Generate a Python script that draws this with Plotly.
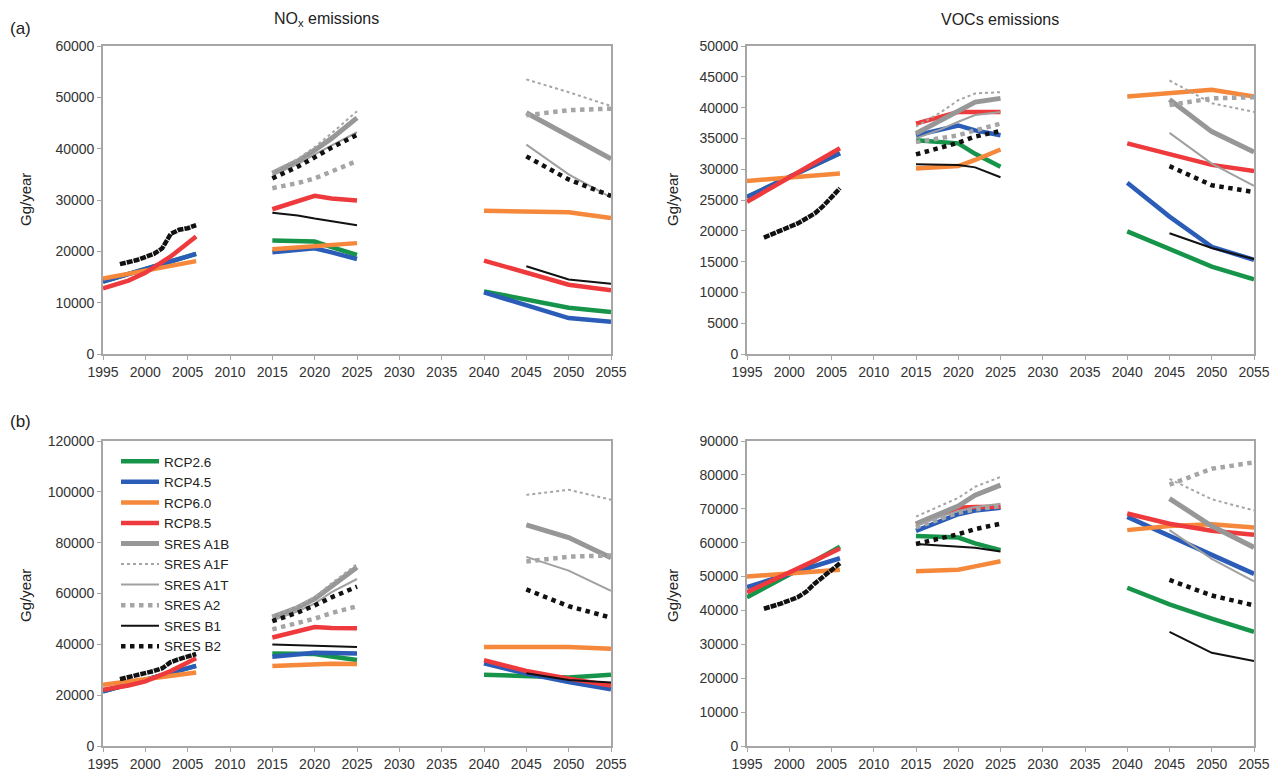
import plotly.graph_objects as go

SERIES = ["RCP2.6", "RCP4.5", "RCP6.0", "RCP8.5", "SRES A1B", "SRES A1F",
          "SRES A1T", "SRES A2", "SRES B1", "SRES B2"]
YEARS_P1 = [1995, 1998, 2000, 2003, 2006]
YEARS_P1_B2 = [1997, 1999, 2001, 2002, 2003, 2004, 2005, 2006]
YEARS_P2 = [2015, 2018, 2020, 2022, 2025]
YEARS_P3_RCP = [2040, 2045, 2050, 2055]
YEARS_P3_SRES = [2045, 2050, 2055]
X_TICKS = list(range(1995, 2056, 5))

# ---------- (a) NOx ----------
NOX_A_P1 = {
    "RCP2.6": [14100, 15600, 16600, 18000, 19500],
    "RCP4.5": [14100, 15600, 16600, 18000, 19500],
    "RCP6.0": [14700, 15600, 16300, 17200, 18100],
    "RCP8.5": [12800, 14300, 15800, 19000, 22900],
}
NOX_A_B2_P1 = [17500, 18300, 19500, 20600, 23400, 24200, 24500, 25100]
NOX_A_P2 = {
    "RCP2.6": [22100, 22000, 21900, 20800, 19300],
    "RCP4.5": [19800, 20300, 20600, 19800, 18500],
    "RCP6.0": [20400, 20800, 21100, 21400, 21600],
    "RCP8.5": [28200, 29700, 30800, 30300, 29900],
    "SRES A1B": [35200, 37600, 39700, 42000, 46000],
    "SRES A1F": [35500, 38000, 40300, 43000, 47300],
    "SRES A1T": [34800, 37000, 38900, 40600, 43200],
    "SRES A2": [32300, 33300, 34200, 35500, 37600],
    "SRES B1": [27500, 27000, 26400, 25900, 25100],
    "SRES B2": [34200, 36500, 38300, 40200, 42700],
}
NOX_A_P3 = {
    "RCP2.6": [12200, 10500, 9000, 8200],
    "RCP4.5": [12000, 9500, 7000, 6300],
    "RCP6.0": [27900, 27700, 27600, 26500],
    "RCP8.5": [18200, 15800, 13500, 12400],
    "SRES A1B": [47000, 42500, 38000],
    "SRES A1F": [53500, 51000, 48300],
    "SRES A1T": [40800, 35000, 30500],
    "SRES A2": [46500, 47500, 47800],
    "SRES B1": [17100, 14500, 13700],
    "SRES B2": [38500, 34000, 30800],
}

# ---------- (a) VOCs ----------
VOC_A_P1 = {
    "RCP2.6": [25500, 27400, 28800, 30700, 32600],
    "RCP4.5": [25500, 27400, 28800, 30700, 32600],
    "RCP6.0": [28100, 28400, 28600, 29000, 29300],
    "RCP8.5": [24700, 27100, 28800, 31100, 33400],
}
VOC_A_B2_P1 = [18900, 20100, 21200, 22000, 22800, 24000, 25500, 26900]
VOC_A_P2 = {
    "RCP2.6": [34700, 34500, 34200, 32500, 30400],
    "RCP4.5": [35500, 36500, 37100, 36300, 35500],
    "RCP6.0": [30100, 30300, 30500, 31500, 33200],
    "RCP8.5": [37400, 38500, 39300, 39300, 39300],
    "SRES A1B": [35800, 38000, 39600, 40900, 41500],
    "SRES A1F": [36900, 39300, 41200, 42300, 42500],
    "SRES A1T": [35000, 36500, 37700, 38800, 39300],
    "SRES A2": [34400, 35000, 35500, 36300, 37400],
    "SRES B1": [30800, 30800, 30700, 30300, 28700],
    "SRES B2": [32400, 33500, 34300, 35300, 36200],
}
VOC_A_P3 = {
    "RCP2.6": [19900, 17000, 14200, 12100],
    "RCP4.5": [27800, 22300, 17400, 15300],
    "RCP6.0": [41800, 42400, 42900, 41800],
    "RCP8.5": [34200, 32400, 30700, 29700],
    "SRES A1B": [41300, 36100, 32800],
    "SRES A1F": [44400, 40700, 39300],
    "SRES A1T": [35900, 30900, 27300],
    "SRES A2": [40400, 41500, 41700],
    "SRES B1": [19600, 17200, 15400],
    "SRES B2": [30500, 27400, 26300],
}

# ---------- (b) NOx ----------
NOX_B_P1 = {
    "RCP2.6": [21500, 24200, 26000, 28700, 31500],
    "RCP4.5": [21500, 24200, 26000, 28700, 31500],
    "RCP6.0": [24100, 25400, 26300, 27600, 28900],
    "RCP8.5": [22100, 23800, 25400, 29500, 34500],
}
NOX_B_B2_P1 = [26300, 27800, 29500, 30600, 33000, 34200, 35400, 36200]
NOX_B_P2 = {
    "RCP2.6": [36400, 36300, 36200, 35200, 33800],
    "RCP4.5": [35100, 36000, 36700, 36600, 36400],
    "RCP6.0": [31500, 32000, 32500, 32400, 32300],
    "RCP8.5": [42700, 45000, 46800, 46400, 46300],
    "SRES A1B": [50700, 54500, 57900, 63000, 70300],
    "SRES A1F": [51000, 55000, 58600, 64000, 71600],
    "SRES A1T": [49400, 53000, 56000, 60500, 65700],
    "SRES A2": [45900, 48200, 50100, 52300, 55000],
    "SRES B1": [39900, 39600, 39300, 39100, 39000],
    "SRES B2": [49100, 52500, 55300, 58500, 62700],
}
NOX_B_P3 = {
    "RCP2.6": [28000, 27500, 27000, 28000],
    "RCP4.5": [32500, 28500, 25200, 22300],
    "RCP6.0": [39000, 39000, 39000, 38300],
    "RCP8.5": [33800, 29500, 26500, 23800],
    "SRES A1B": [87000, 82000, 74100],
    "SRES A1F": [98800, 100800, 96900],
    "SRES A1T": [74400, 69000, 61000],
    "SRES A2": [72600, 74500, 75000],
    "SRES B1": [28600, 26000, 25000],
    "SRES B2": [61600, 55000, 50500],
}

# ---------- (b) VOCs ----------
VOC_B_P1 = {
    "RCP2.6": [43900, 47800, 50600, 54600, 58800],
    "RCP4.5": [46900, 49200, 50700, 53000, 55400],
    "RCP6.0": [50000, 50500, 50900, 51500, 52000],
    "RCP8.5": [45400, 48800, 51200, 54700, 58300],
}
VOC_B_B2_P1 = [40500, 42000, 43900, 45500, 47900, 50000, 52200, 53900]
VOC_B_P2 = {
    "RCP2.6": [62000, 61800, 61500, 59800, 57800],
    "RCP4.5": [63500, 66500, 68400, 69500, 70300],
    "RCP6.0": [51600, 51700, 52000, 53000, 54500],
    "RCP8.5": [65400, 68500, 70300, 70500, 70600],
    "SRES A1B": [65600, 68800, 70800, 74000, 77000],
    "SRES A1F": [67700, 71000, 73200, 76500, 79400],
    "SRES A1T": [64900, 67800, 69300, 70500, 71500],
    "SRES A2": [64500, 67000, 68800, 69800, 70800],
    "SRES B1": [59600, 59200, 58800, 58500, 57400],
    "SRES B2": [59600, 61200, 62500, 64000, 65600],
}
VOC_B_P3 = {
    "RCP2.6": [46700, 41800, 37600, 33700],
    "RCP4.5": [67600, 62000, 56200, 50800],
    "RCP6.0": [63700, 64900, 65400, 64500],
    "RCP8.5": [68600, 65600, 63500, 62300],
    "SRES A1B": [73000, 64900, 58600],
    "SRES A1F": [78800, 72800, 69500],
    "SRES A1T": [63700, 55200, 48600],
    "SRES A2": [77100, 81800, 83700],
    "SRES B1": [33700, 27500, 25100],
    "SRES B2": [49000, 44400, 41500],
}

STYLE = {
    "RCP2.6": dict(color="#16954a", width=4.5, dash="solid"),
    "RCP4.5": dict(color="#2a5cb8", width=4.5, dash="solid"),
    "RCP6.0": dict(color="#f5883a", width=4.5, dash="solid"),
    "RCP8.5": dict(color="#ee3a3c", width=4.5, dash="solid"),
    "SRES A1B": dict(color="#979797", width=5, dash="solid"),
    "SRES A1F": dict(color="#a5a5a5", width=2, dash="dot"),
    "SRES A1T": dict(color="#a0a0a0", width=2, dash="solid"),
    "SRES A2": dict(color="#a5a5a5", width=4.5, dash="dot"),
    "SRES B1": dict(color="#111111", width=2, dash="solid"),
    "SRES B2": dict(color="#111111", width=4.5, dash="dot"),
}

PANELS = [
    ("x", "y", NOX_A_P1, NOX_A_B2_P1, NOX_A_P2, NOX_A_P3, False),
    ("x2", "y2", VOC_A_P1, VOC_A_B2_P1, VOC_A_P2, VOC_A_P3, False),
    ("x3", "y3", NOX_B_P1, NOX_B_B2_P1, NOX_B_P2, NOX_B_P3, True),
    ("x4", "y4", VOC_B_P1, VOC_B_B2_P1, VOC_B_P2, VOC_B_P3, False),
]

fig = go.Figure()
for xa, ya, p1, b2p1, p2, p3, show in PANELS:
    for name in SERIES:
        xs, ys = [], []
        if name in p1:
            xs += YEARS_P1 + [None]
            ys += p1[name] + [None]
        xs += YEARS_P2 + [None]
        ys += p2[name] + [None]
        xs += (YEARS_P3_RCP if name.startswith("RCP") else YEARS_P3_SRES)
        ys += p3[name]
        st = STYLE[name]
        fig.add_trace(go.Scatter(
            x=xs, y=ys, mode="lines", name=name, xaxis=xa, yaxis=ya,
            line=dict(color=st["color"], width=st["width"], dash=st["dash"]),
            connectgaps=False, showlegend=show, legendgroup=name,
            hoverinfo="skip"))
        if name == "SRES B2":
            fig.add_trace(go.Scatter(
                x=YEARS_P1_B2, y=b2p1, mode="lines", name=name, xaxis=xa, yaxis=ya,
                line=dict(color=st["color"], width=4.5, dash="6px,1px"),
                showlegend=False, legendgroup=name, hoverinfo="skip"))

FONT = "Liberation Sans, Arial, Helvetica, sans-serif"
# page has an 8px body margin: figure is sized to fit the window without scrollbars
OFF = 8
W, H = 1285 - 2 * OFF, 781 - 2 * OFF


def px(x):  # page x pixel -> paper fraction
    return (x - OFF) / W


def py(y):  # page y pixel -> paper fraction
    return 1 - (y - OFF) / H


XL = [px(103), px(611)]
XR = [px(747), px(1254)]
YT = [py(354), py(46)]
YB = [py(746), py(441)]


def xaxis(dom, anchor):
    return dict(domain=dom, anchor=anchor, range=[1995, 2055], tickvals=X_TICKS,
                ticks="outside", ticklen=4, tickcolor="#a6a6a6", tickwidth=1.2,
                showline=True, linecolor="#a6a6a6", linewidth=1.6, mirror=True,
                showgrid=False, zeroline=False, automargin=False,
                tickfont=dict(family=FONT, size=14, color="#333333"))


def yaxis(dom, anchor, ymax, dtick):
    return dict(domain=dom, anchor=anchor, range=[0, ymax], dtick=dtick, tickformat="d",
                ticks="outside", ticklen=4, tickcolor="#a6a6a6", tickwidth=1.2,
                showline=True, linecolor="#a6a6a6", linewidth=1.6, mirror=True,
                showgrid=False, zeroline=False, automargin=False,
                tickfont=dict(family=FONT, size=14, color="#333333"))


fig.update_layout(
    width=W, height=H, margin=dict(l=0, r=0, t=0, b=0, autoexpand=False),
    paper_bgcolor="white", plot_bgcolor="white",
    font=dict(family=FONT, color="#222222"),
    xaxis=xaxis(XL, "y"), yaxis=yaxis(YT, "x", 60000, 10000),
    xaxis2=xaxis(XR, "y2"), yaxis2=yaxis(YT, "x2", 50000, 5000),
    xaxis3=xaxis(XL, "y3"), yaxis3=yaxis(YB, "x3", 120000, 20000),
    xaxis4=xaxis(XR, "y4"), yaxis4=yaxis(YB, "x4", 90000, 10000),
    legend=dict(x=px(116), y=py(446), xanchor="left", yanchor="top",
                bgcolor="rgba(0,0,0,0)", font=dict(family=FONT, size=13.5, color="#222222"),
                tracegroupgap=0, itemwidth=38),
    showlegend=True,
)

ann = [
    dict(text="NO<sub>x</sub> emissions", x=327, y=20, size=16),
    dict(text="VOCs emissions", x=1000, y=20, size=16),
    dict(text="(a)", x=21, y=28, size=17),
    dict(text="(b)", x=21, y=421, size=17),
]
for a in ann:
    fig.add_annotation(xref="paper", yref="paper", x=px(a["x"]), y=py(a["y"]), text=a["text"],
                       showarrow=False, xanchor="center", yanchor="middle",
                       font=dict(family=FONT, size=a["size"], color="#222222"))
for xx, yy in [(25, 200), (672, 200), (25, 596), (672, 596)]:
    fig.add_annotation(xref="paper", yref="paper", x=px(xx), y=py(yy), text="Gg/year",
                       textangle=-90, showarrow=False, xanchor="center", yanchor="middle",
                       font=dict(family=FONT, size=15, color="#222222"))

fig.write_html("out.html")
